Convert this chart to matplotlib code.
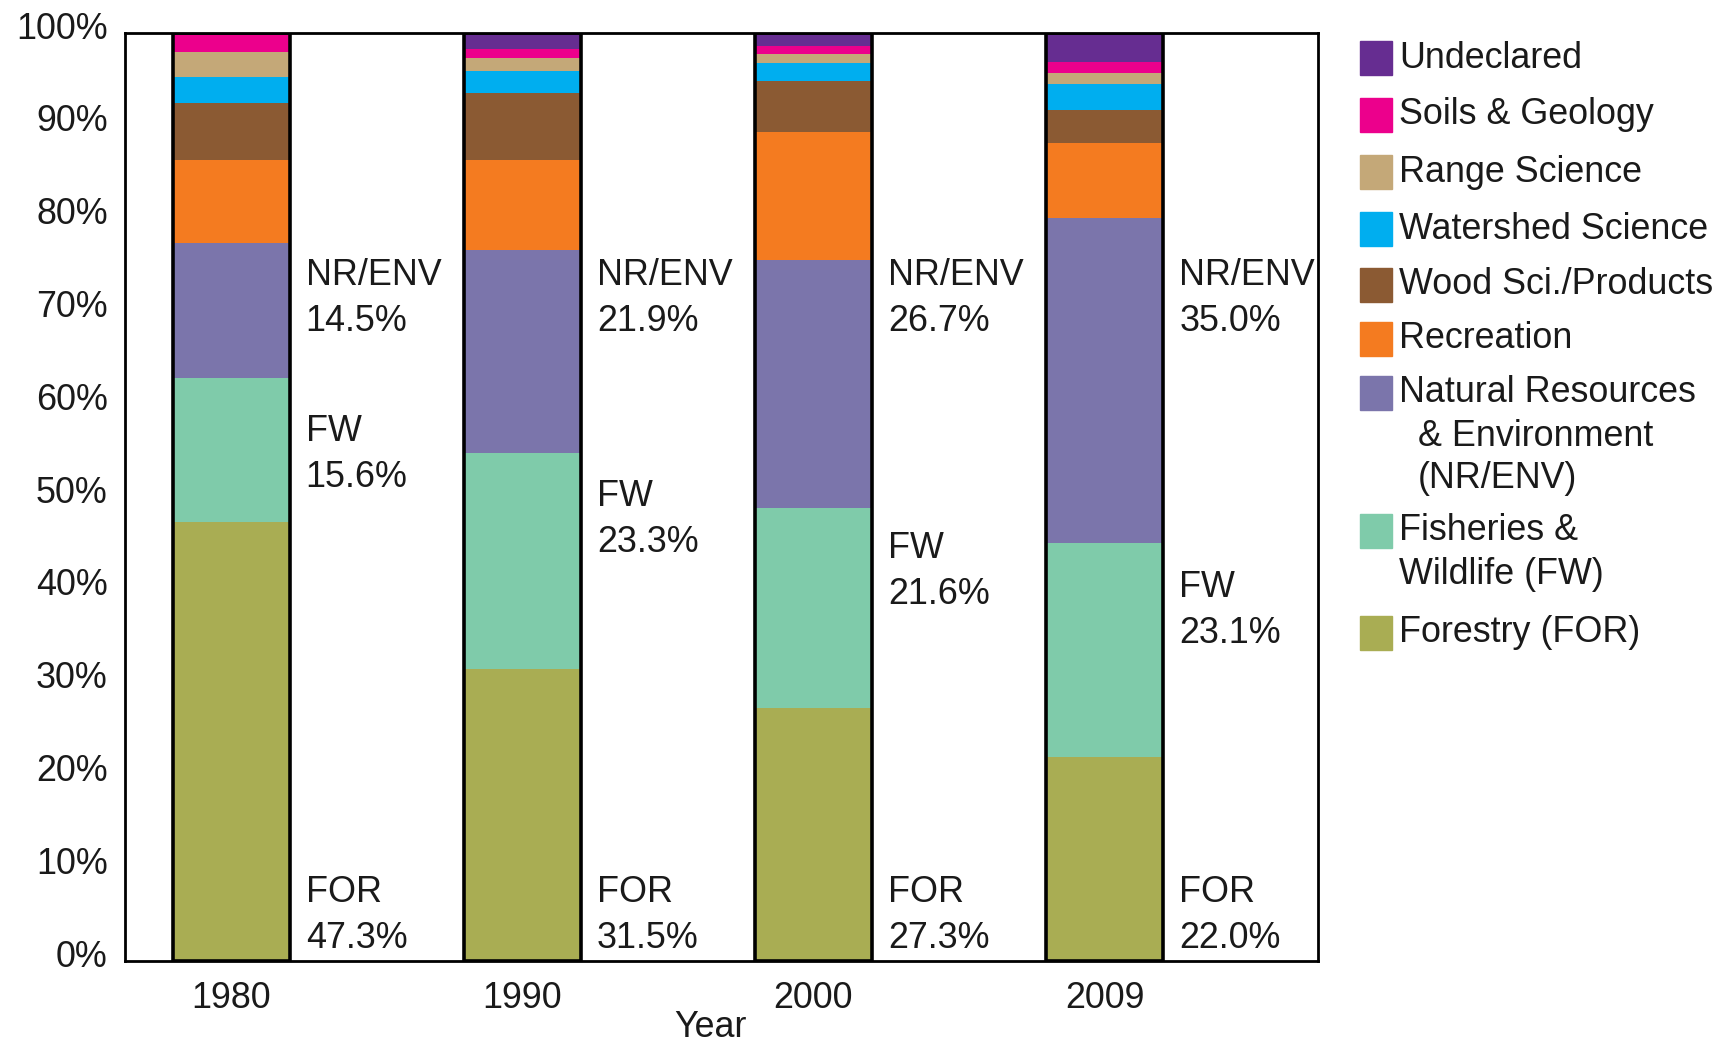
import matplotlib
matplotlib.use("Agg")
import matplotlib.pyplot as plt
import matplotlib.transforms as mtransforms
from matplotlib.patches import Rectangle
import numpy as np

plt.rcParams['font.family'] = ['Liberation Sans', 'DejaVu Sans']

years = ['1980', '1990', '2000', '2009']
forestry = [47.3, 31.5, 27.3, 22.0]
fish_wildlife = [15.6, 23.3, 21.6, 23.1]
nat_res = [14.5, 21.9, 26.7, 35.0]
recreation = [9.0, 9.7, 13.8, 8.1]
wood_sci = [6.1, 7.2, 5.5, 3.6]
watershed = [2.8, 2.4, 1.9, 2.8]
range_sci = [2.7, 1.3, 1.0, 1.1]
soils_geo = [2.0, 1.0, 0.9, 1.2]
undeclared = [0.0, 1.7, 1.3, 3.1]

series = [forestry, fish_wildlife, nat_res, recreation, wood_sci,
          watershed, range_sci, soils_geo, undeclared]
colors = ['#A9AD53', '#7FCBAA', '#7B75AB', '#F47B20', '#8B5A33',
          '#00AEEF', '#C4A878', '#EC008C', '#662D91']

# legend, top to bottom; each entry is a list of (line, indent px)
legend_labels = [
    [('Undeclared', 0)],
    [('Soils & Geology', 0)],
    [('Range Science', 0)],
    [('Watershed Science', 0)],
    [('Wood Sci./Products', 0)],
    [('Recreation', 0)],
    [('Natural Resources', 0), ('& Environment', 19), ('(NR/ENV)', 19)],
    [('Fisheries &', 0), ('Wildlife (FW)', 0)],
    [('Forestry (FOR)', 0)],
]
legend_colors = colors[::-1]
legend_y = [58, 115, 172, 229, 285, 339, 393, 531, 633]

# label y centres (in %)
nr_label_y = 71.4
fw_label_y = [54.6, 47.65, 42.05, 37.8]
for_label_y = 4.95

W, H = 1727, 1045
fig = plt.figure(figsize=(W / 100, H / 100), dpi=100)
ax = fig.add_axes([0.0721, 0.080, 0.6913, 0.888])

x = np.arange(len(years))
width = 0.402
bottom = np.zeros(len(years))
for vals, c in zip(series, colors):
    ax.bar(x, vals, width, bottom=bottom, color=c, linewidth=0, zorder=2)
    bottom += np.array(vals)
ax.bar(x, [100] * len(years), width, fill=False, edgecolor='black',
       linewidth=2.6, zorder=3)

fs = 25.8
for i in range(len(years)):
    tx = i + width / 2 + 0.055
    ax.text(tx, nr_label_y, 'NR/ENV\n%.1f%%' % nat_res[i], fontsize=fs,
            va='center', ha='left', color='#1a1a1a', linespacing=1.4)
    ax.text(tx, fw_label_y[i], 'FW\n%.1f%%' % fish_wildlife[i], fontsize=fs,
            va='center', ha='left', color='#1a1a1a', linespacing=1.4)
    ax.text(tx, for_label_y, 'FOR\n%.1f%%' % forestry[i], fontsize=fs,
            va='center', ha='left', color='#1a1a1a', linespacing=1.4)

ax.set_xlim(-0.366, 3.734)
ax.set_ylim(0, 100)
ax.set_xticks(x)
ax.set_xticklabels(years)
ax.set_yticks(np.arange(0, 101, 10))
ax.set_yticklabels(['%d%%' % v for v in range(0, 101, 10)])
ax.tick_params(axis='both', length=0, labelsize=fs, labelcolor='#1a1a1a')
ax.tick_params(axis='x', pad=14)
ax.tick_params(axis='y', pad=12)
offset = mtransforms.ScaledTranslation(0, 6 / 72, fig.dpi_scale_trans)
for lab in ax.get_yticklabels():
    lab.set_transform(lab.get_transform() + offset)
ax.set_xlabel('Year', fontsize=fs, color='#1a1a1a')
ax.xaxis.set_label_coords(0.491, -0.071)
ax.xaxis.label.set_va('center')
for s in ax.spines.values():
    s.set_linewidth(2)
    s.set_zorder(4)

# manual legend
sq_w, sq_h = 32, 34
line_gap = 43
for lines, c, yc in zip(legend_labels, legend_colors, legend_y):
    fig.patches.append(Rectangle(((1360) / W, 1 - (yc + sq_h / 2) / H),
                                 sq_w / W, sq_h / H, color=c,
                                 transform=fig.transFigure))
    for k, (txt, ind) in enumerate(lines):
        fig.text((1399 + ind) / W, 1 - (yc + k * line_gap) / H, txt,
                 fontsize=fs, va='center', ha='left', color='#1a1a1a')

fig.savefig('out.png', dpi=100)
